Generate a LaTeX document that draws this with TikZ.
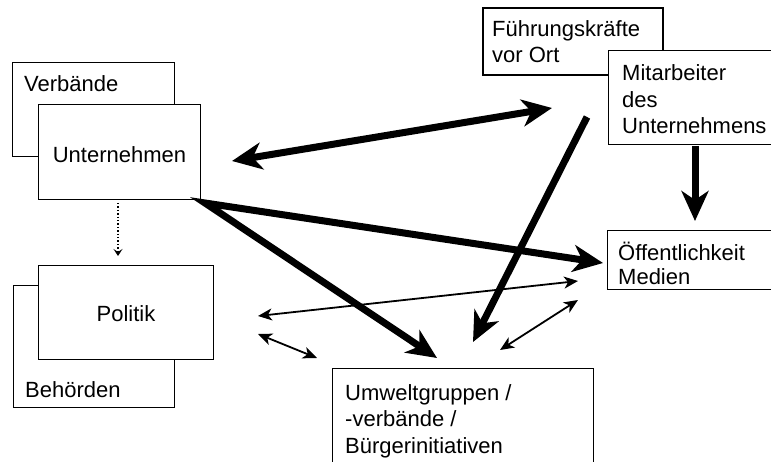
\documentclass[tikz,border=0pt]{standalone}
\usepackage{fontspec}
\setmainfont{Liberation Sans}
\usetikzlibrary{arrows.meta}
\tikzset{
  box/.style={draw, line width=1.3pt, fill=white, inner sep=0pt, anchor=north west},
  txt/.style={inner sep=0pt, align=left, font=\fontsize{22}{26.5}\selectfont},
  bigarrow/.style={line width=7pt, line join=miter, -{Stealth[length=30pt,width=27pt,inset=9pt]}},
  bigboth/.style={line width=7pt, {Stealth[length=30pt,width=27pt,inset=9pt]}-{Stealth[length=30pt,width=27pt,inset=9pt]}},
  thinboth/.style={line width=1.8pt, {Stealth[length=14pt,width=12pt,inset=4pt]}-{Stealth[length=14pt,width=12pt,inset=4pt]}},
  dotarrow/.style={line width=1.4pt, dotted, -{Stealth[length=7pt,width=9pt,inset=3pt]}}
}
\begin{document}
\begin{tikzpicture}[x=1pt,y=-1pt]
\useasboundingbox (0,0) rectangle (771,462);
\clip (0,0) rectangle (771,462);
\fill[white] (0,0) rectangle (771,462);
% boxes
\node[box, minimum width=162pt, minimum height=94pt] (verb) at (12,62) {};
\node[box, minimum width=162pt, minimum height=95pt] (unt) at (38,104) {};
\node[box, minimum width=161pt, minimum height=122pt] (beh) at (13,285) {};
\node[box, minimum width=175pt, minimum height=94pt] (pol) at (38,265) {};
\node[box, line width=2pt, minimum width=180pt, minimum height=67pt] (fuehr) at (482,7) {};
\node[box, minimum width=190pt, minimum height=94pt] (mit) at (608,50) {};
\node[box, minimum width=190pt, minimum height=59pt] (oeff) at (607,230) {};
\node[box, minimum width=261pt, minimum height=110pt] (umw) at (332,368) {};
% texts (multi-line nodes: base = last line)
\node[txt, anchor=base west] (tverb) at (24,92) {Verbände};
\node[txt, anchor=base] (tunt) at (119.5,163) {Unternehmen};
\node[txt, anchor=base] (tpol) at (126,321) {Politik};
\node[txt, anchor=base west] (tbeh) at (25,397) {Behörden};
\node[txt, anchor=base west, font=\fontsize{22}{26}\selectfont] (tfuehr) at (492,63) {Führungskräfte\\vor Ort};
\node[txt, anchor=base west] (tmit) at (622,134) {Mitarbeiter\\des\\Unternehmens};
\node[txt, anchor=base west, font=\fontsize{22}{24.5}\selectfont] (toeff) at (618,285) {Öffentlichkeit\\Medien};
\node[txt, anchor=base west, font=\fontsize{22}{26.5}\selectfont] (tumw) at (345,453) {Umweltgruppen /\\-verbände /\\Bürgerinitiativen};
% connector end points
\coordinate (uA) at (232,161);
\coordinate (mA) at (552,108);
\coordinate (u0) at (205,203);
\coordinate (oT) at (603,263);
\coordinate (wT) at (437,358);
\coordinate (mS) at (587,117);
\coordinate (wT2) at (473,342);
\coordinate (mB) at (695,146);
\coordinate (oT2) at (695,221);
\coordinate (pA) at (258,316);
\coordinate (oA) at (578,281);
\coordinate (pB) at (258,334);
\coordinate (wB) at (317,358);
\coordinate (wC) at (500,350);
\coordinate (oC) at (578,300);
\coordinate (uD) at (118,203);
\coordinate (pD) at (118,256);
% connectors
\draw[bigboth] (uA) -- (mA);
\draw[bigboth, line join=miter, miter limit=10] (oT) -- (u0) -- (wT);
\draw[bigarrow] (mS) -- (wT2);
\draw[bigarrow] (mB) -- (oT2);
\draw[thinboth] (pA) -- (oA);
\draw[thinboth] (pB) -- (wB);
\draw[thinboth] (wC) -- (oC);
\draw[dotarrow] (uD) -- (pD);
\end{tikzpicture}
\end{document}
